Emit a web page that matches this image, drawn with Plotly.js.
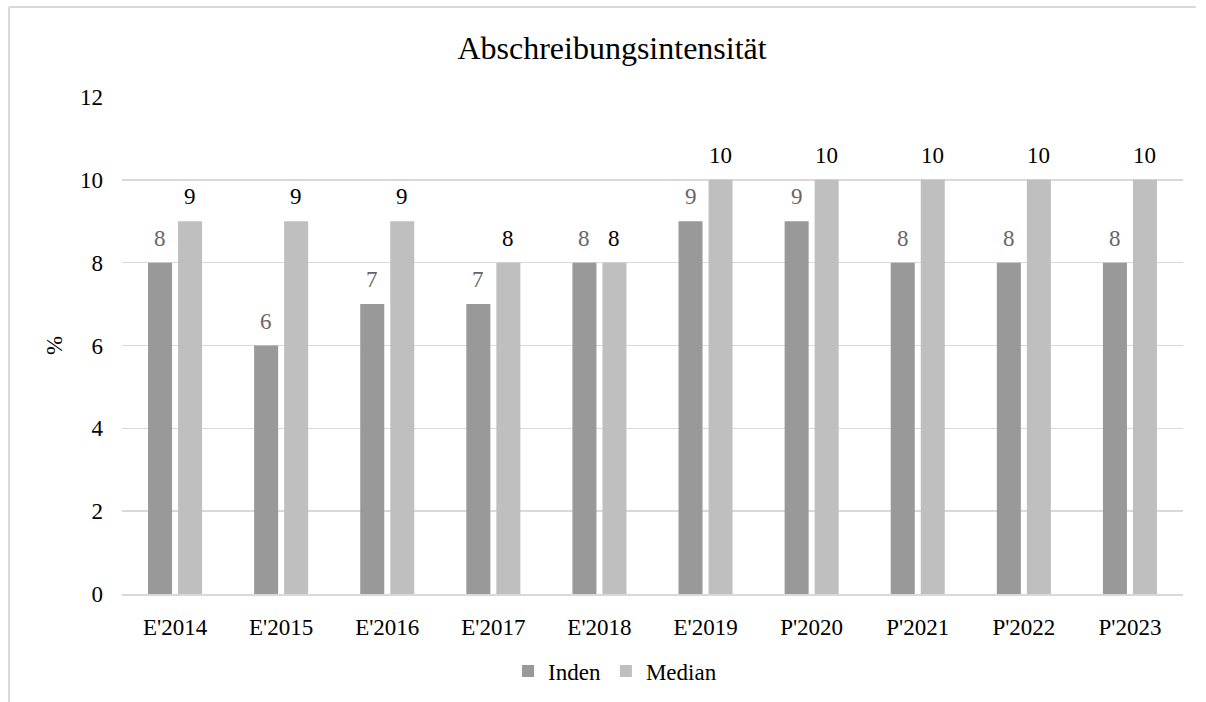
<!DOCTYPE html>
<html>
<head>
<meta charset="utf-8">
<script src="https://cdn.plot.ly/plotly-3.0.1.min.js"></script>
<style>
  html, body { margin: 0; padding: 0; background: #ffffff; overflow: hidden; }
  #chart { width: 1206px; height: 702px; }
</style>
</head>
<body>
<div id="chart"></div>
<script>
// Depreciation intensity per year (%), company vs. peer median
const categories = ["E'2014", "E'2015", "E'2016", "E'2017", "E'2018", "E'2019", "P'2020", "P'2021", "P'2022", "P'2023"];
const indenValues = [8, 6, 7, 7, 8, 9, 9, 8, 8, 8];
const medianValues = [9, 9, 9, 8, 8, 10, 10, 10, 10, 10];
const yTicks = [0, 2, 4, 6, 8, 10, 12];

const FONT = 'Liberation Serif';
const FRAME = '#d9d9d9';

const traces = [
  {
    type: 'bar', name: 'Inden', x: categories, y: indenValues,
    marker: { color: '#999999' }, hoverinfo: 'x+y'
  },
  {
    type: 'bar', name: 'Median', x: categories, y: medianValues,
    marker: { color: '#bfbfbf' }, hoverinfo: 'x+y'
  }
];

// Value labels placed above each bar
const annotations = [];
categories.forEach((c, i) => {
  annotations.push({
    x: c, y: indenValues[i], xref: 'x', yref: 'y', text: String(indenValues[i]),
    showarrow: false, xshift: -15, yshift: 10, yanchor: 'bottom',
    font: { family: FONT, size: 23, color: '#666666' }
  });
  annotations.push({
    x: c, y: medianValues[i], xref: 'x', yref: 'y', text: String(medianValues[i]),
    showarrow: false, xshift: 15, yshift: 10, yanchor: 'bottom',
    font: { family: FONT, size: 23, color: '#000000' }
  });
});

// Thin chart-area frame along the left and top edges
const shapes = [
  { type: 'line', xref: 'paper', yref: 'paper', x0: -0.1065, x1: -0.1065, y0: -0.25, y1: 1.181,
    line: { color: FRAME, width: 2 } },
  { type: 'line', xref: 'paper', yref: 'paper', x0: -0.1065, x1: 1.012, y0: 1.181, y1: 1.181,
    line: { color: FRAME, width: 2 } }
];

const layout = {
  width: 1206, height: 702,
  margin: { l: 122, r: 23, t: 97, b: 108, autoexpand: false },
  paper_bgcolor: '#ffffff', plot_bgcolor: '#ffffff',
  font: { family: FONT, size: 23, color: '#000000' },
  title: {
    text: 'Abschreibungsintensität',
    font: { family: FONT, size: 32, color: '#000000' },
    xref: 'container', x: 0.5075, xanchor: 'center',
    yref: 'container', y: 1 - 48 / 702, yanchor: 'middle'
  },
  barmode: 'group', bargap: 0.434, bargroupgap: 0.2,
  xaxis: {
    type: 'category', showgrid: false, showline: true, linecolor: FRAME, linewidth: 2,
    ticks: '', ticklabelstandoff: 11,
    tickfont: { family: FONT, size: 23, color: '#000000' }
  },
  yaxis: {
    range: [0, 12], tickvals: yTicks, ticktext: yTicks.map(String),
    showgrid: true, gridcolor: FRAME, gridwidth: 1.5,
    zeroline: false, showline: false, ticks: '', ticklabelstandoff: 18,
    tickfont: { family: FONT, size: 23, color: '#000000' },
    title: { text: '%', font: { family: FONT, size: 23, color: '#000000' }, standoff: 10 }
  },
  showlegend: true,
  legend: {
    orientation: 'h', x: 0.4647, xanchor: 'center', y: -0.155, yanchor: 'middle',
    font: { family: FONT, size: 23, color: '#000000' },
    itemwidth: 30, tracegroupgap: 0, itemclick: false
  },
  shapes: shapes,
  annotations: annotations
};

Plotly.newPlot('chart', traces, layout, { displayModeBar: false, staticPlot: true });
</script>
</body>
</html>
